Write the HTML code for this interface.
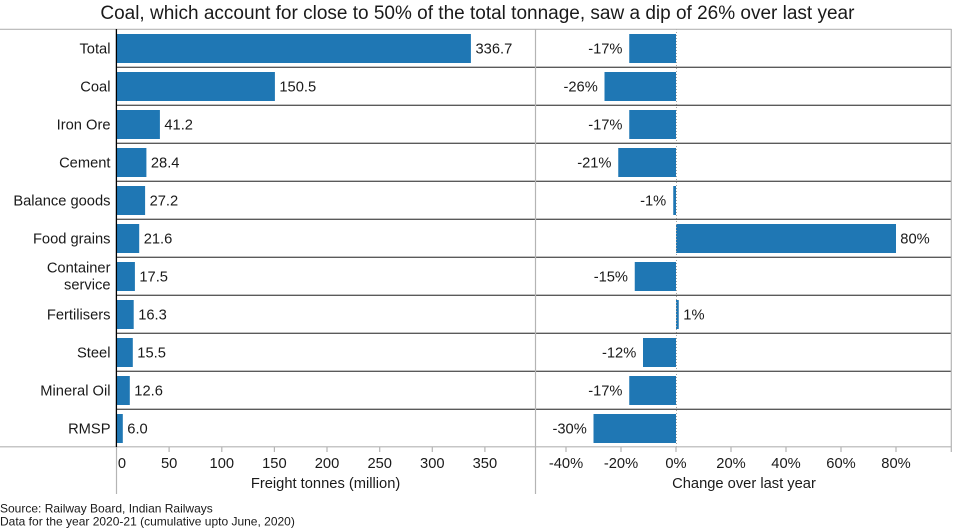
<!DOCTYPE html>
<html>
<head>
<meta charset="utf-8">
<style>
html,body{margin:0;padding:0;background:#fff;}
svg{display:block;}
text{font-family:"Liberation Sans",Arial,sans-serif;fill:#1a1a1a;}
</style>
</head>
<body>
<svg width="956" height="531" viewBox="0 0 956 531" xmlns="http://www.w3.org/2000/svg">
<rect width="956" height="531" fill="#fff"/>
<!-- Title -->
<text x="477.4" y="19" font-size="19" text-anchor="middle">Coal, which account for close to 50% of the total tonnage, saw a dip of 26% over last year</text>

<!-- Bars left -->
<g fill="#1f77b4">
<rect x="116.5" y="34" width="354.4" height="29"/>
<rect x="116.5" y="72" width="158.4" height="29"/>
<rect x="116.5" y="110" width="43.4" height="29"/>
<rect x="116.5" y="148" width="29.9" height="29"/>
<rect x="116.5" y="186" width="28.6" height="29"/>
<rect x="116.5" y="224" width="22.7" height="29"/>
<rect x="116.5" y="262" width="18.4" height="29"/>
<rect x="116.5" y="300" width="17.2" height="29"/>
<rect x="116.5" y="338" width="16.3" height="29"/>
<rect x="116.5" y="376" width="13.3" height="29"/>
<rect x="116.5" y="414" width="6.3" height="29"/>
</g>

<!-- Bars right -->
<g fill="#1f77b4">
<rect x="629.25" y="34" width="46.75" height="29"/>
<rect x="604.5" y="72" width="71.5" height="29"/>
<rect x="629.25" y="110" width="46.75" height="29"/>
<rect x="618.25" y="148" width="57.75" height="29"/>
<rect x="673.25" y="186" width="2.75" height="29"/>
<rect x="676" y="224" width="220" height="29"/>
<rect x="634.75" y="262" width="41.25" height="29"/>
<rect x="676" y="300" width="2.75" height="29"/>
<rect x="643" y="338" width="33" height="29"/>
<rect x="629.25" y="376" width="46.75" height="29"/>
<rect x="593.5" y="414" width="82.5" height="29"/>
</g>

<!-- zero dotted line -->
<line x1="676.5" y1="29" x2="676.5" y2="447" stroke="#a0a0a0" stroke-width="1" stroke-dasharray="1,2"/>

<!-- separators -->
<g stroke="#5a5a5a" stroke-width="1.3">
<line x1="116.5" y1="67.3" x2="951" y2="67.3"/>
<line x1="116.5" y1="105.3" x2="951" y2="105.3"/>
<line x1="116.5" y1="143.3" x2="951" y2="143.3"/>
<line x1="116.5" y1="181.3" x2="951" y2="181.3"/>
<line x1="116.5" y1="219.3" x2="951" y2="219.3"/>
<line x1="116.5" y1="257.3" x2="951" y2="257.3"/>
<line x1="116.5" y1="295.3" x2="951" y2="295.3"/>
<line x1="116.5" y1="333.3" x2="951" y2="333.3"/>
<line x1="116.5" y1="371.3" x2="951" y2="371.3"/>
<line x1="116.5" y1="409.3" x2="951" y2="409.3"/>
</g>

<!-- frame lines -->
<g stroke="#b4b4b4" stroke-width="1.2" fill="none">
<line x1="0" y1="29.3" x2="951.5" y2="29.3"/>
<line x1="0" y1="446.8" x2="951.5" y2="446.8"/>
<line x1="535.5" y1="29" x2="535.5" y2="494"/>
<line x1="951.3" y1="29" x2="951.3" y2="452"/>
<line x1="116.5" y1="447" x2="116.5" y2="494"/>
<!-- left ticks -->
<line x1="169.1" y1="447" x2="169.1" y2="452"/>
<line x1="221.8" y1="447" x2="221.8" y2="452"/>
<line x1="274.4" y1="447" x2="274.4" y2="452"/>
<line x1="327" y1="447" x2="327" y2="452"/>
<line x1="379.7" y1="447" x2="379.7" y2="452"/>
<line x1="432.3" y1="447" x2="432.3" y2="452"/>
<line x1="484.9" y1="447" x2="484.9" y2="452"/>
<!-- right ticks -->
<line x1="566" y1="447" x2="566" y2="452"/>
<line x1="621" y1="447" x2="621" y2="452"/>
<line x1="676" y1="447" x2="676" y2="452"/>
<line x1="731" y1="447" x2="731" y2="452"/>
<line x1="786" y1="447" x2="786" y2="452"/>
<line x1="841" y1="447" x2="841" y2="452"/>
<line x1="896" y1="447" x2="896" y2="452"/>
</g>

<!-- left axis line -->
<line x1="116.4" y1="29" x2="116.4" y2="447" stroke="#000" stroke-width="1.3"/>

<!-- Category labels -->
<g font-size="14.7" text-anchor="end">
<text x="110.5" y="53.3">Total</text>
<text x="110.5" y="91.3">Coal</text>
<text x="110.5" y="129.3">Iron Ore</text>
<text x="110.5" y="167.3">Cement</text>
<text x="110.5" y="205.3">Balance goods</text>
<text x="110.5" y="243.3">Food grains</text>
<text x="110.5" y="272.5">Container</text>
<text x="110.5" y="289.5">service</text>
<text x="110.5" y="319.3">Fertilisers</text>
<text x="110.5" y="357.3">Steel</text>
<text x="110.5" y="395.3">Mineral Oil</text>
<text x="110.5" y="433.3">RMSP</text>
</g>

<!-- Left value labels -->
<g font-size="14.7">
<text x="475.5" y="53.3">336.7</text>
<text x="279.4" y="91.3">150.5</text>
<text x="164.4" y="129.3">41.2</text>
<text x="150.9" y="167.3">28.4</text>
<text x="149.6" y="205.3">27.2</text>
<text x="143.7" y="243.3">21.6</text>
<text x="139.4" y="281.3">17.5</text>
<text x="138.2" y="319.3">16.3</text>
<text x="137.3" y="357.3">15.5</text>
<text x="134.3" y="395.3">12.6</text>
<text x="127.3" y="433.3">6.0</text>
</g>

<!-- Right value labels -->
<g font-size="14.7" text-anchor="end">
<text x="622.5" y="53.3">-17%</text>
<text x="597.8" y="91.3">-26%</text>
<text x="622.5" y="129.3">-17%</text>
<text x="611.5" y="167.3">-21%</text>
<text x="666.2" y="205.3">-1%</text>
<text x="628" y="281.3">-15%</text>
<text x="636.3" y="357.3">-12%</text>
<text x="622.5" y="395.3">-17%</text>
<text x="586.8" y="433.3">-30%</text>
</g>
<g font-size="14.7">
<text x="900.3" y="243.3">80%</text>
<text x="683.3" y="319.3">1%</text>
</g>

<!-- Left tick labels -->
<g font-size="14.7" text-anchor="middle">
<text x="122" y="468">0</text>
<text x="169.2" y="468">50</text>
<text x="221.8" y="468">100</text>
<text x="274.4" y="468">150</text>
<text x="327" y="468">200</text>
<text x="379.7" y="468">250</text>
<text x="432.3" y="468">300</text>
<text x="484.9" y="468">350</text>
</g>
<!-- Right tick labels -->
<g font-size="14.7" text-anchor="middle">
<text x="566" y="468">-40%</text>
<text x="621" y="468">-20%</text>
<text x="676" y="468">0%</text>
<text x="731" y="468">20%</text>
<text x="786" y="468">40%</text>
<text x="841" y="468">60%</text>
<text x="896" y="468">80%</text>
</g>

<!-- Axis titles -->
<g font-size="14.7" text-anchor="middle">
<text x="325.6" y="488">Freight tonnes (million)</text>
<text x="744" y="488">Change over last year</text>
</g>

<!-- Source -->
<g font-size="12">
<text x="0" y="512.7">Source: Railway Board, Indian Railways</text>
<text x="0" y="525.5">Data for the year 2020-21 (cumulative upto June, 2020)</text>
</g>
</svg>
</body>
</html>
